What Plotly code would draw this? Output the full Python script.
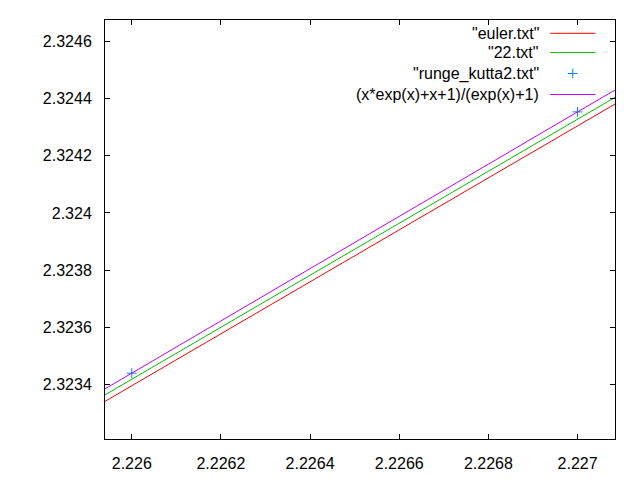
import plotly.graph_objects as go

# ---- data ----
x_vals = [2.225, 2.226, 2.227, 2.228]
euler_y = [2.322488, 2.323396, 2.324304, 2.325212]
heun_y = [2.322510, 2.323419, 2.324327, 2.325236]
rk2_x = [2.226, 2.227]
rk2_y = [2.323440, 2.324353]
exact_y = [2.322527, 2.323440, 2.324353, 2.325259]

x_tickvals = [2.226, 2.2262, 2.2264, 2.2266, 2.2268, 2.227]
x_ticktext = ["2.226", "2.2262", "2.2264", "2.2266", "2.2268", "2.227"]
y_tickvals = [2.3234, 2.3236, 2.3238, 2.324, 2.3242, 2.3244, 2.3246]
y_ticktext = ["2.3234", "2.3236", "2.3238", "2.324", "2.3242", "2.3244", "2.3246"]

legend_names = ['"euler.txt"', '"22.txt"', '"runge_kutta2.txt"', '(x*exp(x)+x+1)/(exp(x)+1)']
colors = ["#ff0000", "#00c000", "#0080ff", "#c000ff"]

# ---- layout constants (window pixels); page body has an 8px margin ----
OFF = 8
W, H = 640 - 2 * OFF, 480 - 2 * OFF
L, R, T, B = 105, 614.7, 20, 439
FONT = dict(family="Liberation Sans, Arial, sans-serif", size=16, color="black")

fig = go.Figure()
fig.add_trace(go.Scatter(x=x_vals, y=euler_y, mode="lines",
                         line=dict(color=colors[0], width=1), showlegend=False))
fig.add_trace(go.Scatter(x=x_vals, y=heun_y, mode="lines",
                         line=dict(color=colors[1], width=1), showlegend=False))
fig.add_trace(go.Scatter(x=rk2_x, y=rk2_y, mode="markers",
                         marker=dict(symbol="cross-thin", size=7,
                                     line=dict(color=colors[2], width=1)),
                         showlegend=False))
fig.add_trace(go.Scatter(x=x_vals, y=exact_y, mode="lines",
                         line=dict(color=colors[3], width=1), showlegend=False))

# gnuplot-style key: text right-aligned, sample to the right
def px2paper_x(px):
    return (px - L) / (R - L)

def px2paper_y(py):
    return (B - py) / (B - T)

rows = [33.3, 52.5, 73.5, 94.5]
text_right = 539
sample_l, sample_r = 550, 595
for i, (name, col) in enumerate(zip(legend_names, colors)):
    fig.add_annotation(x=px2paper_x(text_right), y=px2paper_y(rows[i]),
                       xref="paper", yref="paper", text=name, showarrow=False,
                       xanchor="right", yanchor="middle", font=FONT,
                       borderpad=0, xshift=1)
    if i == 2:
        fig.add_trace(go.Scatter(x=[px2paper_x((sample_l + sample_r) / 2)],
                                 y=[px2paper_y(rows[i])], xaxis="x2", yaxis="y2",
                                 mode="markers",
                                 marker=dict(symbol="cross-thin", size=7,
                                             line=dict(color=col, width=1)),
                                 showlegend=False, hoverinfo="skip"))
    else:
        fig.add_shape(type="line", xref="paper", yref="paper",
                      x0=px2paper_x(sample_l), x1=px2paper_x(sample_r),
                      y0=px2paper_y(rows[i]), y1=px2paper_y(rows[i]),
                      line=dict(color=col, width=1))

axis_common = dict(showline=True, linecolor="black", linewidth=1, mirror="ticks",
                   ticks="inside", ticklen=5, tickcolor="black", tickwidth=1,
                   showgrid=False, zeroline=False, tickfont=FONT, automargin=False)

fig.update_layout(
    width=W, height=H,
    margin=dict(l=L - OFF, r=640 - OFF - R, t=T - OFF, b=480 - OFF - B, pad=0),
    paper_bgcolor="white", plot_bgcolor="white",
    showlegend=False,
    xaxis=dict(range=[2.22594, 2.227084], tickvals=x_tickvals, ticktext=x_ticktext,
               ticklabelstandoff=10, **axis_common),
    yaxis=dict(range=[2.32321, 2.324674], tickvals=y_tickvals, ticktext=y_ticktext,
               ticklabelstandoff=9, **axis_common),
    xaxis2=dict(range=[0, 1], overlaying="x", visible=False, anchor="y2"),
    yaxis2=dict(range=[0, 1], overlaying="y", visible=False, anchor="x2"),
)

fig.write_html("out.html")
